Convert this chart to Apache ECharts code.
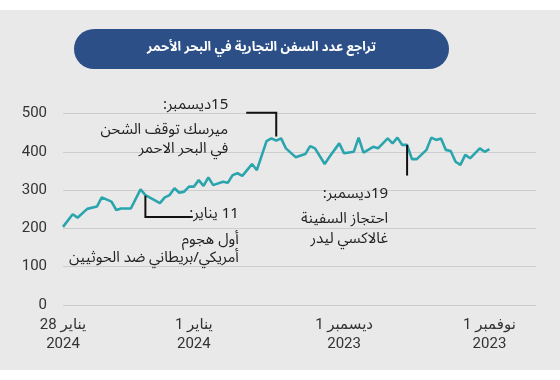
<!DOCTYPE html>
<html><head><meta charset="utf-8">
<script src="https://cdn.jsdelivr.net/npm/echarts@6/dist/echarts.min.js"></script>
<style>
html,body{margin:0;padding:0;background:#fff;}
#wrap{position:relative;width:560px;height:380px;background:#fff;overflow:hidden;}
#chart{position:absolute;left:0;top:10px;width:560px;height:360px;}
</style></head>
<body><div id="wrap"><div id="chart" dir="rtl"></div></div>
<script>
const chartTitle = 'تراجع عدد السفن التجارية في البحر الأحمر';
const startDate = '2023-11-01';
const dates = [
 '2023-11-01','2023-11-02','2023-11-03','2023-11-05','2023-11-06','2023-11-07','2023-11-08','2023-11-09',
 '2023-11-10','2023-11-11','2023-11-12','2023-11-13','2023-11-14','2023-11-16','2023-11-17','2023-11-18',
 '2023-11-19','2023-11-20','2023-11-21','2023-11-22','2023-11-24','2023-11-25','2023-11-27','2023-11-28',
 '2023-11-29','2023-12-01','2023-12-02','2023-12-04','2023-12-05','2023-12-07','2023-12-08','2023-12-09',
 '2023-12-11','2023-12-13','2023-12-14','2023-12-15','2023-12-16','2023-12-17','2023-12-19','2023-12-20',
 '2023-12-22','2023-12-23','2023-12-24','2023-12-25','2023-12-26','2023-12-28','2023-12-29','2023-12-30',
 '2023-12-31','2024-01-01','2024-01-02','2024-01-03','2024-01-04','2024-01-05','2024-01-06','2024-01-07',
 '2024-01-08','2024-01-11','2024-01-12','2024-01-14','2024-01-16','2024-01-17','2024-01-18','2024-01-20',
 '2024-01-21','2024-01-23','2024-01-25','2024-01-26','2024-01-28'
];
const shipCounts = [
 407,400,409,383,392,366,374,402,
 405,435,431,437,405,381,381,418,
 418,437,422,435,409,413,398,437,
 400,396,422,387,368,409,415,394,
 386,409,435,429,435,428,352,368,
 337,344,339,319,322,313,333,311,
 326,309,309,296,293,305,287,281,
 266,287,302,252,252,248,270,281,
 257,251,228,237,204
];
const yTicks = [0,100,200,300,400,500];
const xTickDates = ['2023-11-01','2023-12-01','2024-01-01','2024-01-28'];
const xTickLabels = ['نوفمبر 1\n2023','ديسمبر 1\n2023','يناير 1\n2024','يناير 28\n2024'];
const axisStartDate = '2023-10-22';

const noteDates = ['2023-12-15','2023-11-18','2024-01-11'];
const noteTexts = [
 ['15ديسمبر:','ميرسك توقف الشحن','في البحر الاحمر'],
 ['19ديسمبر:','احتجاز السفينة','غالاكسي ليدر'],
 ['11 يناير:','أول هجوم','أمريكي/بريطاني ضد الحوثيين']
];
const noteValues = [[440,502],[418,338],[285,230]];

const DAY = 86400000;
const toDay = s => (Date.parse(s) - Date.parse(startDate)) / DAY;
const seriesData = dates.map((d,i) => [toDay(d), shipCounts[i]]);
const xTickDays = xTickDates.map(toDay);

const chart = echarts.init(document.getElementById('chart'));
const arFont = "'Noto Sans Arabic','DejaVu Sans',sans-serif";
chart.setOption({
  animation:false,
  backgroundColor:'#e9e9e9',
  grid:{left:63,right:24,top:103.5,bottom:65},
  xAxis:{
    type:'value', inverse:true,
    min:toDay(axisStartDate)+0.4, max:toDay('2024-01-28'),
    axisLine:{show:false}, axisTick:{show:false}, splitLine:{show:false},
    axisLabel:{
      customValues:xTickDays,
      formatter:v => xTickLabels[xTickDays.indexOf(v)] || '',
      color:'#333', fontSize:15, lineHeight:19, margin:11,
      fontFamily:"Roboto,'DejaVu Sans',sans-serif"
    }
  },
  yAxis:{
    type:'value', min:yTicks[0], max:yTicks[yTicks.length-1], interval:100,
    axisLine:{show:false}, axisTick:{show:false},
    splitLine:{lineStyle:{color:'#cdcdcd',width:1}},
    axisLabel:{color:'#333',fontSize:15,margin:16,fontFamily:"Roboto,sans-serif"}
  },
  series:[{
    type:'line', data:seriesData, showSymbol:false,
    lineStyle:{color:'#2aa5ad',width:2.6}, itemStyle:{color:'#2aa5ad'}
  }]
});

const px = (d,v) => chart.convertToPixel({gridIndex:0},[d,v]);
const g = [];
// title banner
g.push({type:'rect',shape:{x:74,y:19,width:375,height:40,r:20},style:{fill:'#2b4f86'},z:10});
g.push({type:'text',z:11,style:{text:chartTitle,x:261.5,y:39,fill:'#fff',
  font:"bold 13px "+arFont,align:'center',verticalAlign:'middle'}});

const lineStyle = {stroke:'#111',lineWidth:2};
const txt = (text,x,y) => ({type:'text',z:11,style:{text,x,y,fill:'#222',
  font:"15px "+arFont,align:'right',verticalAlign:'middle'}});

// note 1 (Dec 15): up then left
{
  const d = toDay(noteDates[0]);
  const a = px(d,noteValues[0][0]), b = px(d,noteValues[0][1]);
  g.push({type:'polyline',z:11,shape:{points:[[a[0],a[1]],[b[0],b[1]],[b[0]-30,b[1]]]},style:lineStyle});
  const rx = b[0]-48, by = b[1];
  g.push(txt(noteTexts[0][0],rx,by-6));
  g.push(txt(noteTexts[0][1],rx,by+19));
  g.push(txt(noteTexts[0][2],rx,by+38.3));
}
// note 2 (Nov 19): down
{
  const d = toDay(noteDates[1]);
  const a = px(d,noteValues[1][0]), b = px(d,noteValues[1][1]);
  g.push({type:'line',z:11,shape:{x1:a[0],y1:a[1],x2:b[0],y2:b[1]},style:lineStyle});
  const rx = b[0]-19, by = b[1];
  g.push(txt(noteTexts[1][0],rx,by+19.8));
  g.push(txt(noteTexts[1][1],rx,by+45.1));
  g.push(txt(noteTexts[1][2],rx,by+65.3));
}
// note 3 (Jan 11): down then right
{
  const d = toDay(noteDates[2]);
  const a = px(d,noteValues[2][0]), b = px(d,noteValues[2][1]);
  g.push({type:'polyline',z:11,shape:{points:[[a[0],a[1]],[b[0],b[1]],[b[0]+47.4,b[1]]]},style:lineStyle});
  const rx = b[0]+93.4, by = b[1];
  g.push(txt(noteTexts[2][0],rx,by-1.4));
  g.push(txt(noteTexts[2][1],rx,by+24.8));
  g.push(txt(noteTexts[2][2],rx,by+43.1));
}
chart.setOption({graphic:g});
</script>
</body></html>
